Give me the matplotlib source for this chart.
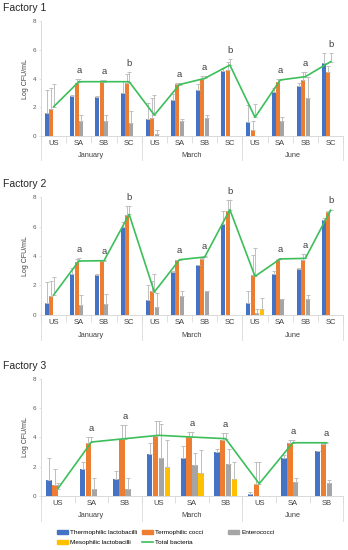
import numpy as np
import matplotlib
matplotlib.use("Agg")
import matplotlib.pyplot as plt
from matplotlib.lines import Line2D
from matplotlib.patches import Patch

plt.rcParams["font.family"] = ["Liberation Sans", "DejaVu Sans"]

nan = np.nan

months = ["January", "March", "June"]
series_names = ["Thermophilic lactobacilli", "Termophilic cocci", "Enterococci",
                "Mesophilic lactobacilli"]
total_name = "Total bacteria"

# Factory 1
f1_cats = ["US", "SA", "SB", "SC"] * 3
f1_thermo_lacto = [1.6, 2.78, 2.74, 2.97, 1.16, 2.5, 3.22, 4.52, 0.97, 3.06, 3.46, 5.1]
f1_thermo_lacto_sd = [1.6, 0.07, 0.06, 0.86, 1.11, 0.42, 0.4, 0.24, 1.19, 0.26, 0.25, 0.65]
f1_cocci = [1.88, 3.71, 3.78, 3.67, 1.23, 3.6, 3.94, 4.59, 0.39, 3.78, 3.92, 4.48]
f1_cocci_sd = [1.48, 0.23, 0.12, 0.67, 1.39, 0.07, 0.24, 0.58, 0.65, 0.16, 0.51, 0.42]
f1_entero = [nan, 1.04, 1.04, 0.88, 0.14, 1.05, 1.23, nan, nan, 1.07, 2.62, nan]
f1_entero_sd = [nan, 0.42, 0.42, 0.84, 0.28, 0.1, 0.23, nan, nan, 0.25, 1.51, nan]
f1_meso = [nan] * 12
f1_meso_sd = [nan] * 12
f1_total = [2.04, 3.78, 3.78, 3.78, 1.46, 3.58, 4.01, 4.94, 1.3, 3.9, 4.13, 5.17]
f1_total_sd = [1.56, 0.16, 0.12, 0.7, 1.37, 0.09, 0.17, 0.4, 0.95, 0.04, 0.3, 0.58]
f1_letters = ["", "a", "a", "b", "", "a", "a", "b", "", "a", "a", "b"]

# Factory 2
f2_cats = ["US", "SA", "SB", "SC"] * 3
f2_thermo_lacto = [0.81, 2.76, 2.71, 5.94, 1.04, 2.92, 3.37, 6.19, 0.84, 2.78, 3.14, 6.44]
f2_thermo_lacto_sd = [1.43, 0.43, 0.09, 0.36, 1.02, 0.05, 0.05, 0.84, 0.81, 0.18, 0.06, 0.16]
f2_cocci = [1.29, 3.6, 3.68, 6.8, 1.65, 3.7, 3.82, 7.05, 2.69, 3.75, 3.75, 6.98]
f2_cocci_sd = [1.01, 0.22, 0.05, 0.57, 0.65, 0.05, 0.05, 0.72, 1.4, 0.05, 0.41, 0.1]
f2_entero = [nan, 0.7, 0.75, nan, 0.52, 1.29, 1.6, nan, 0.11, 1.08, 1.08, nan]
f2_entero_sd = [nan, 0.63, 0.67, nan, 1.0, 0.31, 0.03, nan, 0.27, 0.03, 0.3, nan]
f2_meso = [nan] * 8 + [0.43] + [nan] * 3
f2_meso_sd = [nan] * 8 + [0.72] + [nan] * 3
f2_total = [1.36, 3.66, 3.68, 6.82, 1.56, 3.75, 3.93, 7.14, 2.62, 3.8, 3.84, 7.1]
f2_total_sd = [1.19, 0.2, 0.05, 0.55, 1.19, 0.05, 0.1, 0.63, 1.92, 0.05, 0.32, 0.05]
f2_letters = ["", "a", "a", "b", "", "a", "a", "b", "", "a", "a", "b"]

# Factory 3
f3_cats = ["US", "SA", "SB"] * 3
f3_thermo_lacto = [1.09, 1.85, 1.14, 2.85, 2.62, 3.0, 0.11, 2.62, 3.07]
f3_thermo_lacto_sd = [1.53, 0.47, 0.55, 0.77, 0.8, 0.23, 0.16, 0.16, 0.03]
f3_cocci = [0.75, 3.64, 3.92, 4.1, 4.03, 3.85, 0.84, 3.62, 3.58]
f3_cocci_sd = [1.12, 0.36, 0.95, 1.0, 0.34, 0.45, 1.48, 0.23, 0.05]
f3_entero = [nan, 0.5, 0.5, 2.6, 2.1, 2.2, nan, 0.96, 0.89]
f3_entero_sd = [nan, 0.75, 0.75, 2.34, 0.86, 1.03, nan, 0.27, 0.18]
f3_meso = [nan, nan, nan, 2.0, 1.57, 1.16, nan, nan, nan]
f3_meso_sd = [nan, nan, nan, 1.8, 1.55, 1.16, nan, nan, nan]
f3_total = [0.5, 3.69, 3.92, 4.15, 4.03, 3.92, 0.84, 3.64, 3.64]
f3_total_sd = [0.4, 0.31, 0.95, 0.95, 0.34, 0.38, 1.48, 0.21, 0.05]
f3_letters = ["", "a", "a", "", "a", "a", "", "a", "a"]

colors = ["#4472C4", "#ED7D31", "#A5A5A5", "#FFC000"]
total_color = "#3CBF5A"
err_color = "#BFBFBF"
axis_color = "#D9D9D9"
text_color = "#404040"

panels = [
    ("Factory 1", f1_cats,
     [f1_thermo_lacto, f1_cocci, f1_entero, f1_meso],
     [f1_thermo_lacto_sd, f1_cocci_sd, f1_entero_sd, f1_meso_sd],
     f1_total, f1_total_sd, f1_letters),
    ("Factory 2", f2_cats,
     [f2_thermo_lacto, f2_cocci, f2_entero, f2_meso],
     [f2_thermo_lacto_sd, f2_cocci_sd, f2_entero_sd, f2_meso_sd],
     f2_total, f2_total_sd, f2_letters),
    ("Factory 3", f3_cats,
     [f3_thermo_lacto, f3_cocci, f3_entero, f3_meso],
     [f3_thermo_lacto_sd, f3_cocci_sd, f3_entero_sd, f3_meso_sd],
     f3_total, f3_total_sd, f3_letters),
]

fig = plt.figure(figsize=(3.48, 5.5), dpi=100)

# axes boxes (fig fraction): left, bottom, width, height
boxes = [(0.118, 0.7527, 0.868, 0.209),
         (0.118, 0.4273, 0.868, 0.2145),
         (0.118, 0.0982, 0.868, 0.2127)]
title_y = [0.985, 0.665, 0.335]

bar_w = 0.16
step = 0.175

for (title, cats, vals, sds, total, total_sd, letters), box, ty in zip(panels, boxes, title_y):
    ax = fig.add_axes(box)
    n = len(cats)
    x = np.arange(n)

    for i in range(4):
        v = np.array(vals[i], dtype=float)
        sd = np.array(sds[i], dtype=float)
        xi = x + (i - 1.5) * step
        ax.bar(xi, np.nan_to_num(v), width=bar_w, color=colors[i], zorder=2)
        ax.errorbar(xi, v, yerr=[np.zeros(n), sd], fmt="none", ecolor=err_color,
                    elinewidth=0.7, capsize=1.6, capthick=0.7, zorder=3)

    ax.plot(x, total, color=total_color, lw=1.2, zorder=4)
    ax.errorbar(x, total, yerr=[np.zeros(n), total_sd], fmt="none", ecolor=err_color,
                elinewidth=0.7, capsize=1.6, capthick=0.7, zorder=3)

    # significance letters above the highest whisker
    tops = np.nanmax(np.vstack([np.array(v, float) + np.array(s, float)
                                for v, s in zip(vals + [total], sds + [total_sd])]), axis=0)
    for xi, t, lab in zip(x, tops, letters):
        if lab:
            ax.text(xi, t + 0.28, lab, ha="center", va="bottom", fontsize=6.8,
                    color=text_color)

    ax.set_xlim(-0.5, n - 0.5)
    ax.set_ylim(0, 8)
    ax.set_yticks([0, 2, 4, 6, 8])
    ax.tick_params(axis="y", labelsize=4.5, length=1.5, width=0.5, colors=axis_color,
                   labelcolor="#595959", pad=2)
    ax.set_ylabel("Log CFU/mL", fontsize=5, color=text_color, labelpad=3)

    for s in ["top", "right"]:
        ax.spines[s].set_visible(False)
    for s in ["left", "bottom"]:
        ax.spines[s].set_color(axis_color)
        ax.spines[s].set_linewidth(0.7)

    # category level
    ax.set_xticks(x)
    ax.set_xticklabels(cats)
    ax.tick_params(axis="x", which="major", length=0, labelsize=5.5,
                   labelcolor=text_color, pad=3)
    ax.set_xticks(np.arange(n + 1) - 0.5, minor=True)
    ax.tick_params(axis="x", which="minor", length=5, width=0.6, colors=axis_color)

    # month level
    trans = ax.get_xaxis_transform()
    per = n // 3
    for k in range(4):
        xb = k * per - 0.5
        ax.plot([xb, xb], [0, -0.21], transform=trans, color=axis_color, lw=0.6,
                clip_on=False)
    for k, m in enumerate(months):
        ax.text(k * per + per / 2 - 0.5, -0.17, m, transform=trans, ha="center",
                va="center", fontsize=5.3, color=text_color)

    fig.text(0.01, ty, title, fontsize=7.5, color="#262626", va="center", ha="left")

# legend in three equal-width columns, like the spreadsheet original
legend_cols = [
    ([Patch(color=colors[0]), Patch(color=colors[3])], [series_names[0], series_names[3]]),
    ([Patch(color=colors[1]), Line2D([], [], color=total_color, lw=1.2)],
     [series_names[1], total_name]),
    ([Patch(color=colors[2])], [series_names[2]]),
]
col_x = [0.163, 0.408, 0.655]
for (h, l), cx in zip(legend_cols, col_x):
    fig.legend(h, l, loc="upper left", bbox_to_anchor=(cx, 0.037), frameon=False,
               fontsize=4.6, handlelength=1.75, handleheight=0.6, handletextpad=0.35,
               labelspacing=0.75, borderpad=0, borderaxespad=0)

fig.savefig("out.png", dpi=100)
